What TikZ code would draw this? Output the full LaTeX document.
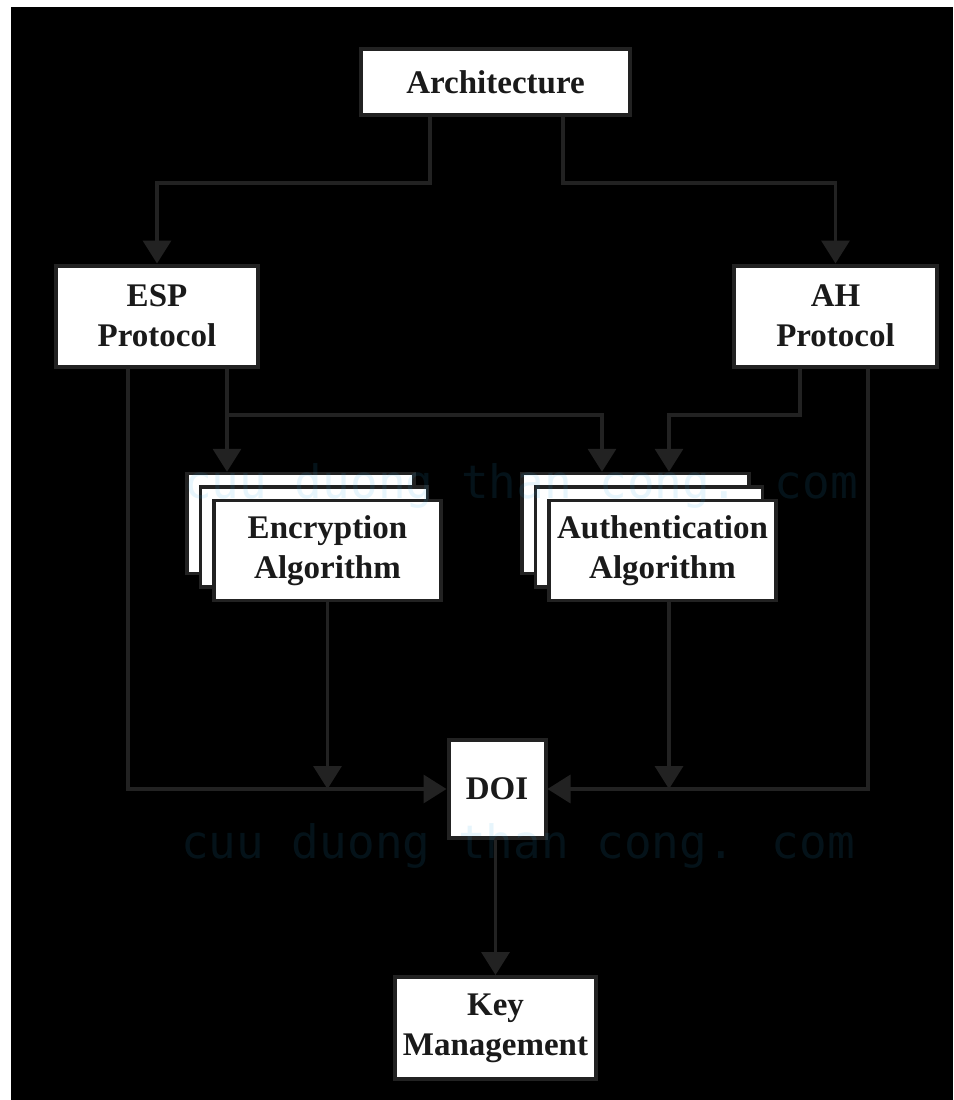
\documentclass[tikz,border=0pt]{standalone}
\usepackage{fontspec}
\setmainfont{Liberation Serif}
\newfontfamily\wmfont{DejaVu Sans Mono}
\usetikzlibrary{arrows.meta}
\definecolor{inkgray}{RGB}{34,34,34}
\definecolor{labelink}{RGB}{26,26,26}
\definecolor{wmblue}{RGB}{40,170,230}
\begin{document}
\begin{tikzpicture}[x=1pt,y=-1pt,
  box/.style={draw=inkgray, line width=4pt, fill=white, inner sep=0pt,
    align=center, text=labelink,
    font=\fontsize{33}{40}\selectfont\bfseries},
  stackbox/.style={box, line width=3.5pt, minimum width=227pt, minimum height=100pt},
  conn/.style={draw=inkgray, line width=3.5pt},
  arr/.style={conn, -{Triangle[length=23pt,width=28pt]}},
  wmark/.style={anchor=base west, inner sep=0pt, text=wmblue, opacity=0.11,
    font=\wmfont\fontsize{46}{46}\selectfont}]
  % page and dark background
  \useasboundingbox (0,0) rectangle (953,1100);
  \fill[white] (0,0) rectangle (953,1100);
  \fill[black] (11,7) rectangle (953,1100);

  % boxes
  \node[box, minimum width=269pt, minimum height=66pt] (arch) at (495.5,82) {Architecture};
  \node[box, minimum width=202pt, minimum height=101pt] (esp) at (157,316) {ESP\\Protocol};
  \node[box, minimum width=203pt, minimum height=101pt] (ah) at (835.5,316) {AH\\Protocol};

  \node[stackbox] (encB) at (300.5,523.5) {};
  \node[stackbox] (encM) at (314,537) {};
  \node[stackbox] (encF) at (327.5,550.5) {Encryption\\Algorithm};

  \node[stackbox] (authB) at (635.5,523.5) {};
  \node[stackbox] (authM) at (649,537) {};
  \node[stackbox] (authF) at (662.5,550.5) {Authentication\\Algorithm};

  \node[box, minimum width=97pt, minimum height=98pt] (doi) at (497,789) {DOI};
  \node[box, minimum width=201pt, minimum height=102pt] (km) at (495.5,1028) {Key\\Management};

  % bends of the connectors
  \coordinate (archL) at (157,183);
  \coordinate (archR) at (835.5,183);
  \coordinate (split) at (602,415);
  \coordinate (ahDrop) at (669,415);

  % architecture to the two protocols
  \draw[arr] ([xshift=-65.5pt]arch.south) |- (archL) -- (esp.north);
  \draw[arr] ([xshift=67.5pt]arch.south) |- (archR) -- (ah.north);

  % ESP to the algorithms
  \draw[arr] ([xshift=70pt]esp.south) -- ([xshift=70pt]esp.south |- encB.north);
  \draw[arr] ([xshift=70pt]esp.south |- split) -| (split |- authB.north);

  % AH to the authentication algorithm
  \draw[arr] ([xshift=-35.5pt]ah.south) |- (ahDrop) -- (ahDrop |- authB.north);

  % everything into the DOI
  \draw[arr] ([xshift=-29pt]esp.south) |- (doi.west);
  \draw[arr] ([xshift=32.5pt]ah.south) |- (doi.east);
  \draw[arr] (encF.south) -- (encF.south |- doi.west);
  \draw[arr] ([xshift=6.5pt]authF.south) -- ([xshift=6.5pt]authF.south |- doi.east);

  % DOI to key management
  \draw[arr] (doi.south -| km.north) -- (km.north);

  % site watermark
  \node[wmark] (wm1) at (184,498) {cuu duong than cong. com};
  \node[wmark] (wm2) at (181,858) {cuu duong than cong. com};
\end{tikzpicture}
\end{document}
